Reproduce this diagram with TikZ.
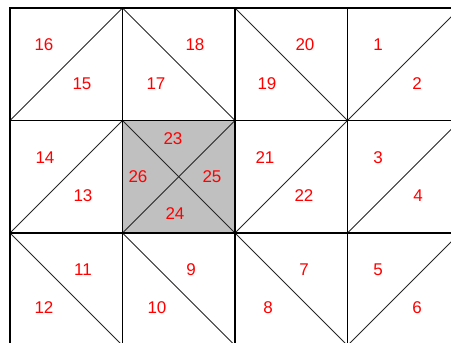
\documentclass[tikz,border=0pt]{standalone}
\usepackage{fontspec}
\setmainfont{Liberation Sans}
\usepackage{xcolor}
\usepackage{tikz}
\definecolor{cellgray}{HTML}{C0C0C0}
\definecolor{numred}{HTML}{FF0000}

\begin{document}
\begin{tikzpicture}[x=1pt, y=-1pt,
    num/.style={text=numred, inner sep=0pt,
                font=\fontsize{17}{17}\selectfont},
    gridline/.style={draw=black, line width=1.3pt, line cap=rect},
    diag/.style={draw=black!85, line width=0.9pt},
  ]
  \useasboundingbox (0,0) rectangle (451,343);
  \clip (0,0) rectangle (451,343);
  % mesh vertices, 4 x 3 cells
  \foreach \i in {0,...,4}
    \foreach \j in {0,...,3}
      \coordinate (v\i\j) at (10+112.5*\i, 8+112.5*\j);

  \fill[cellgray] (v11) rectangle (v22);

  % diagonals
  \draw[diag] (v01)--(v10); \draw[diag] (v10)--(v21);
  \draw[diag] (v20)--(v31); \draw[diag] (v31)--(v40);
  \draw[diag] (v02)--(v11); \draw[diag] (v11)--(v22); \draw[diag] (v12)--(v21);
  \draw[diag] (v22)--(v31); \draw[diag] (v32)--(v41);
  \draw[diag] (v02)--(v13); \draw[diag] (v12)--(v23);
  \draw[diag] (v22)--(v33); \draw[diag] (v33)--(v42);

  % cell edges
  \foreach \i in {0,...,4}
    \draw[gridline] (v\i0)--(v\i3);
  \foreach \j in {0,...,3}
    \draw[gridline] (v0\j)--(v4\j);

  % element numbers
  \node[num] (n16) at (44,45)  {16};
  \node[num] (n15) at (82,84)  {15};
  \node[num] (n18) at (195,45) {18};
  \node[num] (n17) at (156,84) {17};
  \node[num] (n20) at (305,45) {20};
  \node[num] (n19) at (267,84) {19};
  \node[num] (n1)  at (378,45) {1};
  \node[num] (n2)  at (417,84) {2};

  \node[num] (n14) at (45,158)  {14};
  \node[num] (n13) at (83,196)  {13};
  \node[num] (n23) at (173,139) {23};
  \node[num] (n26) at (138,177) {26};
  \node[num] (n25) at (212,177) {25};
  \node[num] (n24) at (175,214) {24};
  \node[num] (n21) at (265,158) {21};
  \node[num] (n22) at (304,196) {22};
  \node[num] (n3)  at (378,158) {3};
  \node[num] (n4)  at (418,196) {4};

  \node[num] (n11) at (83,270)  {11};
  \node[num] (n12) at (44,308)  {12};
  \node[num] (n9)  at (191,270) {9};
  \node[num] (n10) at (157,308) {10};
  \node[num] (n7)  at (304,270) {7};
  \node[num] (n8)  at (268,308) {8};
  \node[num] (n5)  at (378,270) {5};
  \node[num] (n6)  at (417,308) {6};
\end{tikzpicture}
\end{document}
